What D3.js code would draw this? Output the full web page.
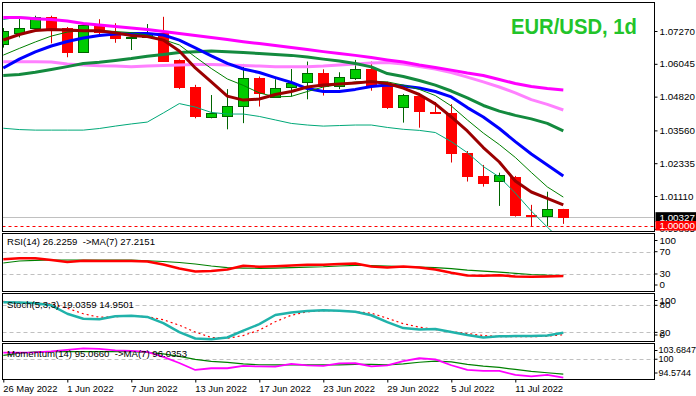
<!DOCTYPE html>
<html><head><meta charset="utf-8">
<script src="https://cdn.jsdelivr.net/npm/d3@7"></script>
<style>
body{margin:0;background:#fff;}
svg{display:block;font-family:"Liberation Sans",Arial,sans-serif;}
</style></head><body>
<svg id="c" width="696" height="396"></svg>
<script>
// ---------------- data ----------------
const dates = ["26 May 2022","27 May 2022","30 May 2022","31 May 2022","1 Jun 2022","2 Jun 2022","3 Jun 2022","6 Jun 2022","7 Jun 2022","8 Jun 2022","9 Jun 2022","10 Jun 2022","13 Jun 2022","14 Jun 2022","15 Jun 2022","16 Jun 2022","17 Jun 2022","20 Jun 2022","21 Jun 2022","22 Jun 2022","23 Jun 2022","24 Jun 2022","27 Jun 2022","28 Jun 2022","29 Jun 2022","30 Jun 2022","1 Jul 2022","4 Jul 2022","5 Jul 2022","6 Jul 2022","7 Jul 2022","8 Jul 2022","11 Jul 2022","12 Jul 2022","13 Jul 2022","14 Jul 2022"];
const xTickLabels = ["26 May 2022","1 Jun 2022","7 Jun 2022","13 Jun 2022","17 Jun 2022","23 Jun 2022","29 Jun 2022","5 Jul 2022","11 Jul 2022"];

const open  = [1.0678,1.0718,1.0737,1.0778,1.0737,1.0650,1.0748,1.0722,1.0700,1.0705,1.0720,1.0619,1.0518,1.0407,1.0411,1.0448,1.0551,1.0480,1.0519,1.0536,1.0569,1.0522,1.0551,1.0584,1.0522,1.0442,1.0484,1.0424,1.0421,1.0271,1.0186,1.0166,1.0182,1.0040,1.0038,1.0063];
const high  = [1.0738,1.0774,1.0784,1.0784,1.0742,1.0753,1.0771,1.0756,1.0721,1.0753,1.0780,1.0621,1.0526,1.0488,1.0510,1.0604,1.0557,1.0547,1.0585,1.0613,1.0584,1.0573,1.0619,1.0613,1.0538,1.0492,1.0492,1.0462,1.0454,1.0279,1.0227,1.0198,1.0186,1.0078,1.0127,1.0063];
const low   = [1.0665,1.0703,1.0731,1.0681,1.0629,1.0646,1.0706,1.0683,1.0656,1.0702,1.0613,1.0510,1.0401,1.0401,1.0360,1.0383,1.0445,1.0478,1.0482,1.0472,1.0486,1.0510,1.0544,1.0504,1.0436,1.0385,1.0366,1.0419,1.0236,1.0165,1.0146,1.0074,1.0034,0.9998,0.9999,1.0007];
const close = [1.0727,1.0737,1.0778,1.0737,1.0650,1.0748,1.0722,1.0700,1.0706,1.0720,1.0615,1.0519,1.0410,1.0420,1.0447,1.0551,1.0497,1.0513,1.0532,1.0569,1.0523,1.0557,1.0584,1.0522,1.0442,1.0488,1.0430,1.0422,1.0271,1.0184,1.0161,1.0189,1.0041,1.0036,1.0062,1.00327];

const maMaroon = [1.0693,1.0714,1.0729,1.0733,1.0731,1.0728,1.0728,1.0720,1.0710,1.0706,1.0693,1.0652,1.0589,1.0537,1.0484,1.0469,1.0473,1.0490,1.0501,1.0518,1.0525,1.0529,1.0533,1.0538,1.0531,1.0514,1.0490,1.0455,1.0406,1.0354,1.0292,1.0238,1.0167,1.0126,1.0102,1.0078];
const maThinGreen = [1.0637,1.0662,1.0686,1.0708,1.0723,1.0729,1.0729,1.0725,1.0721,1.0712,1.0695,1.0675,1.0630,1.0587,1.0548,1.0524,1.0496,1.0481,1.0483,1.0501,1.0518,1.0527,1.0537,1.0540,1.0537,1.0525,1.0509,1.0486,1.0447,1.0395,1.0346,1.0303,1.0255,1.0199,1.0145,1.0107];
const maBlue = [1.0589,1.0622,1.0649,1.0671,1.0688,1.0701,1.0710,1.0716,1.0718,1.0718,1.0712,1.0693,1.0664,1.0634,1.0606,1.0585,1.0572,1.0553,1.0535,1.0512,1.0501,1.0501,1.0509,1.0520,1.0525,1.0522,1.0514,1.0501,1.0481,1.0441,1.0406,1.0363,1.0314,1.0268,1.0227,1.0186];
const maGreen = [1.0561,1.0565,1.0573,1.0583,1.0594,1.0606,1.0610,1.0617,1.0624,1.0633,1.0639,1.0647,1.0650,1.0652,1.0650,1.0647,1.0643,1.0639,1.0636,1.0630,1.0622,1.0615,1.0606,1.0593,1.0568,1.0557,1.0542,1.0525,1.0503,1.0477,1.0449,1.0428,1.0412,1.0399,1.0382,1.0354];
const maMagenta = [1.0777,1.0777,1.0773,1.0770,1.0764,1.0755,1.0749,1.0744,1.0738,1.0733,1.0725,1.0718,1.0710,1.0703,1.0695,1.0687,1.0680,1.0673,1.0665,1.0658,1.0650,1.0643,1.0636,1.0628,1.0619,1.0611,1.0600,1.0591,1.0581,1.0570,1.0561,1.0546,1.0531,1.0520,1.0512,1.0507];
const maPink = [1.0612,1.0612,1.0612,1.0611,1.0604,1.0600,1.0597,1.0596,1.0594,1.0596,1.0598,1.0600,1.0602,1.0602,1.0600,1.0598,1.0596,1.0594,1.0594,1.0594,1.0596,1.0600,1.0604,1.0608,1.0609,1.0604,1.0594,1.0585,1.0572,1.0555,1.0537,1.0518,1.0496,1.0471,1.0453,1.0432];
const bandLower = [1.0364,1.0359,1.0357,1.0357,1.0357,1.0357,1.0363,1.0372,1.0380,1.0387,1.0421,1.0456,1.0443,1.0423,1.0417,1.0417,1.0408,1.0395,1.0382,1.0376,1.0372,1.0374,1.0376,1.0376,1.0367,1.0360,1.0356,1.0348,1.0314,1.0273,1.0221,1.0182,1.0122,1.0055,0.9995,0.9939];
const bandUpper = [1.0770,1.0779,1.0777];

const rsi   = [56.3,58.1,58.1,55.1,51.5,53.8,53.3,53.3,53.3,52.4,47.0,39.8,34.4,35.3,38.0,44.8,43.0,44.0,45.2,46.6,46.6,47.9,48.8,43.4,41.6,43.4,41.6,38.0,32.3,27.3,26.9,27.8,25.5,25.1,25.5,26.2259];
const rsiMa = [49.7,53.3,54.5,55.1,55.1,55.1,55.1,55.1,55.1,53.8,52.4,50.6,47.9,44.3,41.6,40.7,40.2,40.7,41.6,42.5,43.0,44.3,45.6,45.2,44.3,43.4,42.5,41.6,39.8,37.1,35.3,33.5,31.2,29.1,27.8,27.2151];
const stochK = [87,86,84.4,80,61.3,50.3,49.2,55.8,56.9,54.3,40.4,20.7,6.4,4.6,8.6,24,38.2,58.5,64,67.3,69,67.9,65.7,58,42.6,29.5,26.2,27.3,20.7,14.1,8.6,11.2,11.9,11.9,13,19.0359];
const stochD = [88.8,86.6,85,83.3,73.4,61.3,53.6,54.7,56.5,54.7,48.1,36,20.7,8.6,6.8,13,25,43.7,58,65.7,68.4,68.4,65.7,62.4,51.4,39.3,31.6,26.2,21.8,17.4,13,10.8,10.3,10.3,11.4,14.9501];
const mom   = [101.77,101.77,101.82,102.09,102.49,102.9,102.76,102.36,102.23,101.96,100.62,99.0,97.13,97.59,97.59,98.2,98.07,98.02,98.74,98.34,98.2,98.87,98.93,98.07,98.34,99.49,100.27,99.95,98.39,97.13,96.86,96.86,95.79,95.39,95.79,95.066];
const momMa = [101.02,101.61,101.96,102.04,102.04,102.04,102.04,102.04,102.04,101.82,101.42,100.75,99.95,99.41,99.14,98.74,98.53,98.47,98.47,98.47,98.47,98.47,98.61,98.61,98.47,98.74,99.2,99.49,99.28,98.61,98.15,97.8,97.27,96.73,96.38,96.0353];

const priceTicks = [1.07270,1.06045,1.04820,1.03560,1.02335,1.01110,0.99885];
const rsiTicks = [100,70,30,0];
const rsiLevels = [70,30];
const stochTicks = [100,80,20,0];
const stochLevels = [80,20];
const momTicks = [103.6847,100,94.5744];
const momLevels = [100];
const parityLevel = 1.00000;
const title = "EUR/USD, 1d";
const rsiLabel = "RSI(14) 26.2259  ->MA(7) 27.2151";
const stochLabel = "Stoch(5,3,3) 19.0359 14.9501";
const momLabel = "Momentum(14) 95.0660  ->MA(7) 96.0353";

// ---------------- layout ----------------
const svg = d3.select("#c");
const L = 2.5, R = 654.5;
const P = {main:[2.5,231.5], rsi:[233.5,291.5], stoch:[293.5,341.5], mom:[343.5,379.5]};

const x = d3.scalePoint().domain(dates).range([3.3, 563.3]);
const yP = d3.scaleLinear().domain([0.99785,1.08334]).range([231.5,2.5]);
const yR = d3.scaleLinear().domain([0,100]).range([290.7,235]);
const yS = d3.scaleLinear().domain([0,100]).range([341.4,296.3]);
const yM = d3.scaleLinear().domain([94.5744,103.6847]).range([379.5,345.5]);

const defs = svg.append("defs");
Object.entries(P).forEach(([k,[t,b]])=>{
  defs.append("clipPath").attr("id","clip-"+k).append("rect")
    .attr("x",L+0.5).attr("y",t+0.5).attr("width",R-L-1).attr("height",b-t-1);
});
const layer = k => svg.append("g").attr("clip-path",`url(#clip-${k})`);

function drawLine(g, data, y, color, w, dash){
  g.append("path").datum(data)
    .attr("fill","none").attr("stroke",color).attr("stroke-width",w)
    .attr("stroke-linejoin","round")
    .attr("stroke-dasharray",dash||null)
    .attr("d", d3.line().defined(d=>d!=null).x((d,i)=>x(dates[i])).y(d=>y(d)));
}
function hLine(g, v, y, color, dash, w){
  g.append("line").attr("x1",L).attr("x2",R)
    .attr("y1",Math.round(y(v))+0.5).attr("y2",Math.round(y(v))+0.5)
    .attr("stroke",color).attr("stroke-width",w||1).attr("stroke-dasharray",dash||null);
}

// ---------------- main panel ----------------
const gm = layer("main");
hLine(gm, close[close.length-1], yP, "#c0c0c0");
hLine(gm, parityLevel, yP, "#ff0000", "3,3");

const candles = gm.append("g");
dates.forEach((d,i)=>{
  const cx = Math.round(x(d));
  const up = close[i] >= open[i];
  const wickC = up ? "#006400" : "#e00000";
  candles.append("line").attr("x1",cx+0.5).attr("x2",cx+0.5)
    .attr("y1",yP(high[i])).attr("y2",yP(low[i]))
    .attr("stroke",wickC).attr("stroke-width",1);
  const top = yP(Math.max(open[i],close[i])), bot = yP(Math.min(open[i],close[i]));
  candles.append("rect").attr("x",cx-4.5).attr("width",10)
    .attr("y",Math.round(top)+0.5).attr("height",Math.max(0.01,Math.round(bot)-Math.round(top)))
    .attr("fill", up ? "#00cc00" : "#ff0000")
    .attr("stroke", up ? "#006400" : "#ff0000").attr("stroke-width",1);
});

drawLine(gm, bandUpper, yP, "#00a878", 1);
drawLine(gm, maPink, yP, "#ff80ff", 3);
drawLine(gm, maMagenta, yP, "#ff00ff", 3);
drawLine(gm, bandLower, yP, "#00a878", 1);
drawLine(gm, maGreen, yP, "#138a3e", 3);
drawLine(gm, maBlue, yP, "#0000ff", 3);
drawLine(gm, maThinGreen, yP, "#008000", 1);
drawLine(gm, maMaroon, yP, "#9b0000", 3);

svg.append("text").attr("x",637).attr("y",33.5).attr("text-anchor","end")
  .attr("font-size",22).attr("font-weight","bold").attr("fill","#22c42a")
  .attr("textLength",126).attr("lengthAdjust","spacingAndGlyphs").text(title);

// ---------------- RSI ----------------
const gr = layer("rsi");
rsiLevels.forEach(v=>hLine(gr, v, yR, "#c0c0c0", "4,3"));
drawLine(gr, rsiMa, yR, "#008000", 1.2);
drawLine(gr, rsi, yR, "#ff0000", 2.5);

// ---------------- Stoch ----------------
const gs = layer("stoch");
stochLevels.forEach(v=>hLine(gs, v, yS, "#c0c0c0", "4,3"));
drawLine(gs, stochD, yS, "#ff0000", 1.2, "2,3");
drawLine(gs, stochK, yS, "#20b2aa", 2.5);

// ---------------- Momentum ----------------
const gmo = layer("mom");
momLevels.forEach(v=>hLine(gmo, v, yM, "#c0c0c0", "4,3"));
drawLine(gmo, momMa, yM, "#008000", 1.2);
drawLine(gmo, mom, yM, "#ff00ff", 1.8);

// panel labels
[[rsiLabel,245.3],[stochLabel,308],[momLabel,357]].forEach(([t,yy])=>{
  svg.append("text").attr("x",7).attr("y",yy).attr("font-size",9.6).attr("fill","#000")
    .style("white-space","pre").text(t);
});

// borders
Object.values(P).forEach(([t,b])=>{
  svg.append("rect").attr("x",L).attr("y",t).attr("width",R-L).attr("height",b-t)
    .attr("fill","none").attr("stroke","#000").attr("stroke-width",1);
});

// ---------------- right axes ----------------
function rightAxis(scale, ticks, fmt, top, bottom, clamp, fs, pad){
  const g = svg.append("g").attr("transform",`translate(${R},0)`)
    .call(d3.axisRight(scale).tickValues(ticks).tickFormat(fmt).tickSize(3).tickPadding(pad));
  g.select(".domain").remove();
  g.attr("font-family","Liberation Sans, Arial, sans-serif").attr("font-size",fs);
  if (clamp) g.selectAll(".tick").attr("transform", d=>`translate(0,${Math.max(top+7, Math.min(bottom-6.5, scale(d)))})`);
  g.selectAll("text").attr("fill","#000");
  g.selectAll("line").attr("stroke","#000");
  return g;
}
rightAxis(yP, priceTicks, d3.format(".5f"), P.main[0], P.main[1], false, 9.8, 2);
rightAxis(yR, rsiTicks, d3.format("d"), P.rsi[0], P.rsi[1], true, 9.8, 2);
rightAxis(yS, stochTicks, d3.format("d"), P.stoch[0], P.stoch[1], true, 9.8, 2);
rightAxis(yM, momTicks, d=> d===100 ? "100" : d3.format(".4f")(d), P.mom[0], P.mom[1], true, 9, 1);

// price label boxes
function priceBox(v, bg, fg){
  const yy = yP(v);
  svg.append("rect").attr("x",655.5).attr("y",yy-4.8).attr("width",41).attr("height",9.6).attr("fill",bg);
  svg.append("text").attr("x",659.5).attr("y",yy+3.6).attr("font-size",9.8).attr("fill",fg)
    .text(d3.format(".5f")(v));
}
priceBox(close[close.length-1], "#000000", "#ffffff");
priceBox(parityLevel, "#ff0000", "#ffffff");

// ---------------- x axis ----------------
const gx = svg.append("g").attr("transform",`translate(0,${P.mom[1]})`)
  .call(d3.axisBottom(x).tickValues(xTickLabels).tickSize(3).tickPadding(3));
gx.select(".domain").remove();
gx.attr("font-family","Liberation Sans, Arial, sans-serif").attr("font-size",9.4);
gx.selectAll("text").attr("text-anchor","start").attr("fill","#000").attr("dx",-0.5);
gx.selectAll("line").attr("stroke","#000");
</script>
</body></html>
